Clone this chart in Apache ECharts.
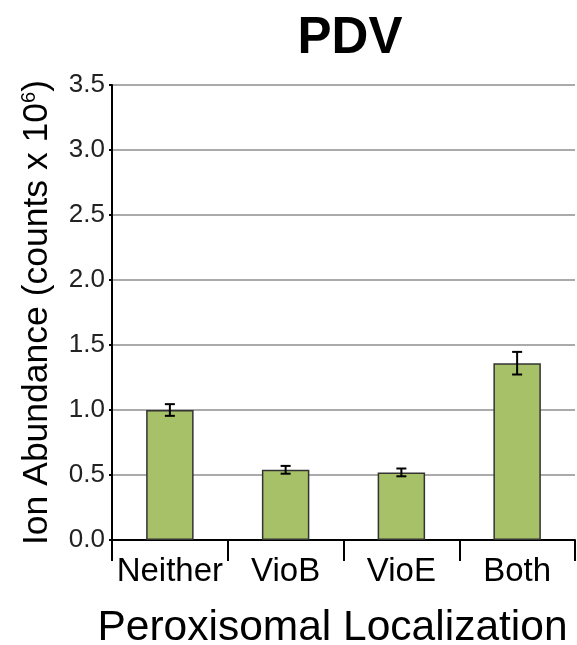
<!DOCTYPE html>
<html>
<head>
<meta charset="utf-8">
<script src="https://cdn.jsdelivr.net/npm/echarts@6/dist/echarts.min.js"></script>
<style>html,body{margin:0;padding:0;background:#fff}#c{width:577px;height:645px}</style>
</head>
<body>
<div id="c"></div>
<script>
var categories = ['Neither', 'VioB', 'VioE', 'Both'];
var values = [1.00, 0.54, 0.52, 1.36];
var errors = [0.045, 0.03, 0.03, 0.087];
var yTicks = [0, 0.5, 1.0, 1.5, 2.0, 2.5, 3.0, 3.5];

var chart = echarts.init(document.getElementById('c'), null, {renderer: 'canvas'});
var font = 'Liberation Sans, Arial, Helvetica, sans-serif';
var errData = values.map(function (v, i) { return [i, v - errors[i], v + errors[i]]; });

chart.setOption({
  animation: false,
  title: {
    text: 'PDV', left: 345, top: 8, textAlign: 'center',
    textStyle: {fontFamily: font, fontSize: 51, fontWeight: 'bold', color: '#000'}
  },
  grid: {left: 112, right: 2, top: 85, bottom: 105, containLabel: false, outerBoundsMode: 'none'},
  xAxis: {
    type: 'category', data: categories,
    axisLine: {lineStyle: {color: '#000', width: 2}},
    axisTick: {show: true, length: 21, inside: false, interval: 0, lineStyle: {color: '#000', width: 2}},
    axisLabel: {fontFamily: font, fontSize: 33, color: '#000', margin: 15, interval: 0, hideOverlap: false},
    name: 'Peroxisomal Localization', nameLocation: 'middle', nameGap: 67,
    nameTextStyle: {fontFamily: font, fontSize: 42.5, color: '#000', padding: [0, 22, 0, 0]}
  },
  yAxis: {
    type: 'value', min: 0, max: 3.5, interval: 0.5,
    axisLine: {show: true, lineStyle: {color: '#000', width: 2}},
    axisTick: {show: true, length: 3, lineStyle: {color: '#000', width: 2}},
    axisLabel: {fontFamily: font, fontSize: 26, color: '#222', margin: 7,
      formatter: function (v) { return v.toFixed(1); }},
    splitLine: {show: true, lineStyle: {color: '#aaaaaa', width: 2}},
    name: '{a|Ion Abundance (counts x 10}{s|6}{a|)}', nameLocation: 'middle', nameGap: 57,
    nameTextStyle: {
      rich: {
        a: {fontFamily: font, fontSize: 35.5, color: '#000'},
        s: {fontFamily: font, fontSize: 20, color: '#000', padding: [0, 0, 16, 0]}
      }
    }
  },
  series: [
    {
      type: 'bar', data: values, barWidth: '41%',
      itemStyle: {color: '#a7c169', borderColor: '#333', borderWidth: 1.5},
      z: 2
    },
    {
      type: 'custom', data: errData, z: 3,
      renderItem: function (params, api) {
        var x = api.value(0);
        var lo = api.coord([x, api.value(1)]);
        var hi = api.coord([x, api.value(2)]);
        var w = 5;
        var st = {stroke: '#000', lineWidth: 2};
        return {
          type: 'group',
          children: [
            {type: 'line', shape: {x1: lo[0], y1: lo[1], x2: hi[0], y2: hi[1]}, style: st},
            {type: 'line', shape: {x1: lo[0] - w, y1: lo[1], x2: lo[0] + w, y2: lo[1]}, style: st},
            {type: 'line', shape: {x1: hi[0] - w, y1: hi[1], x2: hi[0] + w, y2: hi[1]}, style: st}
          ]
        };
      }
    }
  ]
});
</script>
</body>
</html>
